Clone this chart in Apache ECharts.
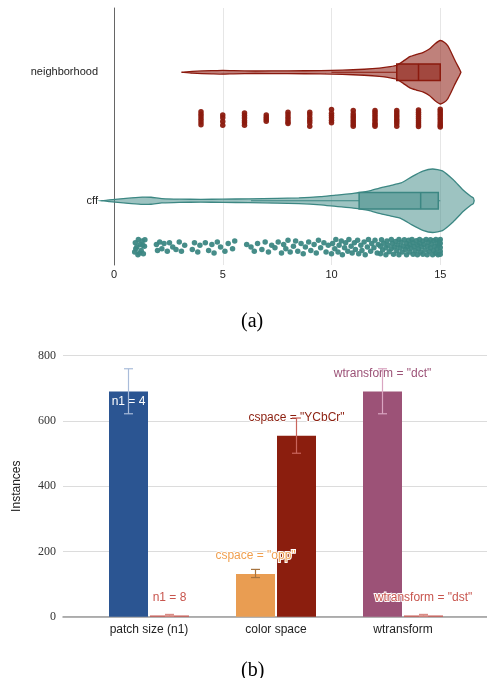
<!DOCTYPE html>
<html><head><meta charset="utf-8">
<script src="https://cdn.jsdelivr.net/npm/echarts@6/dist/echarts.min.js"></script>
<style>html,body{margin:0;padding:0;background:#fff}#c{width:487px;height:678px}</style>
</head><body><div id="c"></div>
<script>
// ---------- Panel (a) data ----------
const rowNames = ['cff', 'neighborhood'];
const xTicksA = [0, 5, 10, 15];
// violin profiles: [x, relative density (max 1)]
const nbViolin = [[3.1,0],[3.6,0.03],[4.5,0.05],[5,0.06],[5.5,0.05],[6.5,0.04],[8,0.045],[9.5,0.05],[10.5,0.065],[11.5,0.095],[12.2,0.13],[12.7,0.175],[13.0,0.22],[13.3,0.35],[13.6,0.49],[13.9,0.56],[14.2,0.62],[14.5,0.73],[14.75,0.89],[15.0,1.0],[15.2,0.94],[15.35,0.83],[15.5,0.63],[15.65,0.41],[15.8,0.21],[15.9,0.08],[15.95,0]];
const cffViolin = [[-0.55,0],[-0.2,0.03],[0.3,0.06],[0.8,0.09],[1.3,0.115],[1.7,0.11],[2.2,0.07],[3,0.05],[4,0.045],[5,0.05],[6.2,0.06],[7.5,0.075],[8.5,0.09],[9.5,0.13],[10.2,0.18],[11,0.23],[11.7,0.3],[12.2,0.4],[12.7,0.48],[13.2,0.56],[13.7,0.76],[14.2,0.93],[14.65,1.0],[15.1,0.94],[15.6,0.66],[16.05,0.34],[16.4,0.14],[16.52,0.09],[16.56,0]];
// box: [whisker low, Q1, median, Q3, whisker high]
const nbBox = [10, 13, 14, 15, 15];
const cffBox = [6.3, 11.27, 14.1, 14.91, 15];
// neighborhood jittered points: [x, vertical jitter values]
const nbJitter = [
  [4, [0.8,0.5,0.2,-0.1,-0.4,-0.75]],
  [5, [0.42,0.1,-0.35,-0.78]],
  [6, [0.66,0.35,0.05,-0.25,-0.5,-0.78]],
  [7, [0.42,0.15,-0.1,-0.31]],
  [8, [0.74,0.45,0.15,-0.15,-0.4,-0.58]],
  [9, [0.74,0.45,0.1,-0.2,-0.5,-0.9]],
  [10, [1.06,0.62,0.35,0.1,-0.2,-0.5]],
  [11, [0.94,0.55,0.3,0.05,-0.2,-0.45,-0.7,-0.9]],
  [12, [0.94,0.7,0.45,0.2,-0.05,-0.3,-0.55,-0.75,-0.9]],
  [13, [0.94,0.68,0.42,0.18,-0.08,-0.32,-0.58,-0.9]],
  [14, [1.0,0.75,0.5,0.25,0.0,-0.25,-0.5,-0.75,-0.95]],
  [15, [1.1,0.85,0.6,0.35,0.1,-0.15,-0.4,-0.65,-0.85,-1.0]]
];
// cff jittered points: [x, vertical jitter]
const cffJitter = [
  [0.95,-0.6],[0.98,0.5],[1.0,-0.2],[1.05,0.0],[1.1,-0.9],[1.12,0.9],[1.18,-0.7],[1.2,0.3],[1.25,-0.4],[1.3,0.7],[1.32,0.2],[1.35,-0.8],[1.4,0.1],[1.42,0.85],
  [1.95,0.3],[2.0,-0.4],[2.1,0.6],[2.2,-0.2],[2.3,0.4],[2.45,-0.5],[2.55,0.5],[2.7,0.0],[2.85,-0.3],
  [3.0,0.6],[3.1,-0.5],[3.25,0.2],[3.6,-0.3],[3.7,0.5],[3.85,-0.6],[3.95,0.2],
  [4.2,0.5],[4.35,-0.4],[4.5,0.3],[4.6,-0.7],[4.75,0.6],[4.9,0.0],
  [5.1,-0.5],[5.25,0.4],[5.45,-0.2],[5.55,0.7],[6.1,0.3],
  [6.3,0.0],[6.45,-0.5],[6.6,0.4],[6.8,-0.3],[6.95,0.6],[7.1,-0.6],[7.25,0.2],[7.4,-0.1],[7.55,0.6],
  [7.7,-0.7],[7.8,0.3],[7.9,-0.2],[8.0,0.8],[8.1,-0.6],[8.25,0.1],[8.35,0.7],[8.45,-0.5],[8.6,0.4],[8.7,-0.8],[8.8,0.0],[8.95,0.6],[9.05,-0.4],[9.2,0.3],[9.3,-0.7],[9.4,0.8],[9.5,-0.1],[9.65,0.5],[9.75,-0.6],[9.85,0.2],
  [10.0,-0.8],[10.05,0.4],[10.15,-0.2],[10.2,0.9],[10.3,-0.6],[10.35,0.2],[10.45,0.7],[10.5,-0.9],[10.6,-0.1],[10.65,0.5],[10.75,-0.5],[10.8,0.9],[10.9,0.1],[10.95,-0.7],[11.05,0.5],[11.1,-0.3],[11.2,0.8],[11.25,-0.8],[11.35,0.2],[11.4,-0.4],[11.5,0.6],[11.55,-0.9],[11.65,0.0],[11.7,0.9],[11.8,-0.5],[11.85,0.4],[11.95,-0.1],[12.0,0.8],[12.1,-0.7],[12.15,0.3],
  [12.25,-0.8],[12.25,0.1],[12.3,0.85],[12.35,-0.35],[12.4,0.45],[12.5,-0.9],[12.5,-0.1],[12.55,0.7],[12.6,0.2],[12.65,-0.55],[12.75,0.9],[12.75,-0.2],[12.8,0.4],[12.85,-0.85],[12.9,0.0],[12.95,0.65],[13.0,-0.45],[13.05,0.25],[13.1,0.9],[13.1,-0.9],[13.15,-0.1],[13.2,0.55],[13.25,-0.6],[13.3,0.1],[13.35,0.85],[13.4,-0.3],[13.45,-0.9],[13.45,0.4],[13.5,0.0],[13.55,0.8],[13.6,-0.6],[13.6,0.3],[13.65,-0.15],[13.7,0.9],[13.75,-0.85],[13.75,0.5],[13.8,0.05],[13.85,-0.45],[13.9,0.75],[13.95,0.25],[13.95,-0.9],[14.0,-0.2],[14.05,0.9],[14.05,0.45],[14.1,-0.6],[14.15,0.0],[14.2,0.7],[14.2,-0.85],[14.25,0.3],[14.3,-0.35],[14.35,0.9],[14.4,-0.9],[14.4,0.1],[14.45,0.55],[14.5,-0.5],[14.55,0.85],[14.55,-0.1],[14.6,0.35],[14.65,-0.9],[14.7,0.75],[14.7,-0.4],[14.75,0.1],[14.8,0.9],[14.8,-0.75],[14.85,0.45],[14.85,-0.2],[14.9,-0.9],[14.95,0.7],[14.95,0.2],[15.0,-0.5],[15.0,0.9],[15.0,-0.05],[15.0,0.45],[15.0,-0.85]
];

// ---------- Panel (b) data ----------
const barCategories = ['patch size (n1)', 'color space', 'wtransform'];
const barValuesA = [690, 131, 690];
const barValuesB = [4, 555, 4];
const barLabelsA = ['n1 = 4', 'cspace = "opp"', 'wtransform = "dct"'];
const barLabelsB = ['n1 = 8', 'cspace = "YCbCr"', 'wtransform = "dst"'];
const errA = [[622, 760], [120, 145], [622, 760]];
const errB = [[2, 7], [501, 609], [2, 7]];
const yTicksB = [0, 200, 400, 600, 800];

// ---------- styles / layout ----------
const rowCenter = [0.5, 1.5];
const violinHalf = 0.247, boxHalf = 0.065, jitterOffset = -0.36, jitterSpread = 0.066;
const nbColor = '#8B1A0E', cffColor = '#3C8783';
const barColorsA = ['#2B5592', '#E99D52', '#9C5277'];
const barColorsB = ['#C8554E', '#8B1E0E', '#C8554E'];
const labelColorsA = ['#ffffff', '#F0A050', '#9C5277'];
const labelColorsB = ['#C8554E', '#8B1E0E', '#C8554E'];
const errColorsA = ['#A9BCDA', '#A7743F', '#D9A5C1'];
const errColorsB = ['#D98C86', '#C9655C', '#D98C86'];
const barW = 39, barGapPx = 2;
const SANS = 'Liberation Sans, Arial, sans-serif', SERIF = 'Liberation Serif, Times New Roman, serif';

function violin(profile, row, fill, stroke) {
  return {
    type: 'custom', xAxisIndex: 0, yAxisIndex: 1, data: [0], silent: true, z: 2, clip: false,
    renderItem: function (params, api) {
      const c = rowCenter[row];
      const top = profile.map(p => api.coord([p[0], c + p[1] * violinHalf]));
      const bot = profile.slice().reverse().map(p => api.coord([p[0], c - p[1] * violinHalf]));
      return { type: 'polygon', shape: { points: top.concat(bot), smooth: 0.15 },
        style: { fill: fill, stroke: stroke, lineWidth: 1.3 } };
    }
  };
}
function box(b, row, fill, stroke) {
  return {
    type: 'custom', xAxisIndex: 0, yAxisIndex: 1, data: [0], silent: true, z: 3, clip: false,
    renderItem: function (params, api) {
      const c = rowCenter[row];
      const a = api.coord([b[1], c + boxHalf]), d = api.coord([b[3], c - boxHalf]);
      const m1 = api.coord([b[2], c + boxHalf]), m2 = api.coord([b[2], c - boxHalf]);
      const wl = api.coord([b[0], c]), q1 = api.coord([b[1], c]);
      const q3 = api.coord([b[3], c]), wh = api.coord([b[4], c]);
      const st = { stroke: stroke, lineWidth: 1.5, fill: null };
      return { type: 'group', children: [
        { type: 'line', shape: { x1: wl[0], y1: wl[1], x2: q1[0], y2: q1[1] }, style: { stroke: stroke, lineWidth: 1 } },
        { type: 'line', shape: { x1: q3[0], y1: q3[1], x2: wh[0], y2: wh[1] }, style: { stroke: stroke, lineWidth: 1 } },
        { type: 'rect', shape: { x: a[0], y: a[1], width: d[0] - a[0], height: d[1] - a[1] }, style: { fill: fill, stroke: stroke, lineWidth: 1.5 } },
        { type: 'line', shape: { x1: m1[0], y1: m1[1], x2: m2[0], y2: m2[1] }, style: st }
      ] };
    }
  };
}
const nbPoints = [];
nbJitter.forEach(col => col[1].forEach(j => nbPoints.push([col[0], rowCenter[1] + jitterOffset + j * jitterSpread])));
const cffPoints = cffJitter.map(p => [p[0], rowCenter[0] + jitterOffset + p[1] * jitterSpread]);

function errSeries(err, colors, side) {
  return {
    type: 'custom', xAxisIndex: 2, yAxisIndex: 3, z: 4, silent: true,
    data: err.map((e, i) => [i, e[0], e[1]]),
    renderItem: function (params, api) {
      const i = api.value(0);
      const lo = api.coord([i, api.value(1)]), hi = api.coord([i, api.value(2)]);
      const x = lo[0] + side * (barW + barGapPx) / 2;
      const col = colors[params.dataIndex];
      const st = { stroke: col, lineWidth: 1.2 };
      return { type: 'group', children: [
        { type: 'line', shape: { x1: x, y1: lo[1], x2: x, y2: hi[1] }, style: st },
        { type: 'line', shape: { x1: x - 4.5, y1: lo[1], x2: x + 4.5, y2: lo[1] }, style: st },
        { type: 'line', shape: { x1: x - 4.5, y1: hi[1], x2: x + 4.5, y2: hi[1] }, style: st }
      ] };
    }
  };
}
function barData(vals, colors, labels, lcolors, first) {
  return vals.map((v, i) => ({
    value: v,
    itemStyle: { color: colors[i] },
    label: {
      show: true, formatter: labels[i], color: lcolors[i], fontSize: 12, fontFamily: SANS,
      position: (first && i === 0) ? 'insideTop' : 'top',
      distance: (first && i === 0) ? 4 : 12,
      textBorderColor: (first && i === 0) ? 'transparent' : '#fff',
      textBorderWidth: (first && i === 0) ? 0 : 2
    }
  }));
}

const chart = echarts.init(document.getElementById('c'), null, { renderer: 'canvas' });
chart.setOption({
  animation: false,
  backgroundColor: '#fff',
  title: [
    { text: '(a)', left: 241, top: 312, padding: 0, textStyle: { fontFamily: SERIF, fontWeight: 'normal', fontSize: 20, color: '#000' } },
    { text: '(b)', left: 241, top: 661, padding: 0, textStyle: { fontFamily: SERIF, fontWeight: 'normal', fontSize: 20, color: '#000' } }
  ],
  grid: [
    { left: 114, width: 435, top: 8, height: 257, outerBoundsMode: 'none', containLabel: false },
    { left: 63, right: 0, top: 355.7, bottom: 61.3, outerBoundsMode: 'none', containLabel: false },
    { left: 85.5, right: 20.5, top: 355.7, bottom: 61.3, outerBoundsMode: 'none', containLabel: false }
  ],
  xAxis: [
    { gridIndex: 0, type: 'value', min: 0, max: 20, interval: 5,
      axisLine: { show: false }, axisTick: { show: false },
      axisLabel: { margin: 4, fontSize: 11, color: '#222', fontFamily: SANS,
        formatter: v => (xTicksA.indexOf(v) >= 0 ? String(v) : '') },
      splitLine: { show: true, showMinLine: false, showMaxLine: false, lineStyle: { color: '#e6e6e6', width: 1 } } },
    { gridIndex: 1, type: 'value', min: 0, max: 1, axisLabel: { show: false }, axisTick: { show: false },
      splitLine: { show: false }, axisLine: { show: true, lineStyle: { color: '#9a9a9a', width: 1.5 } } },
    { gridIndex: 2, type: 'category', data: barCategories, axisLine: { show: false }, axisTick: { show: false },
      axisLabel: { margin: 7, fontSize: 12, color: '#222', fontFamily: SANS } }
  ],
  yAxis: [
    { gridIndex: 0, type: 'category', data: rowNames, axisTick: { show: false },
      axisLine: { show: true, onZero: false, lineStyle: { color: '#666', width: 1 } },
      axisLabel: { margin: 16, fontSize: 11, color: '#222', fontFamily: SANS }, splitLine: { show: false } },
    { gridIndex: 0, type: 'value', min: 0, max: 2, show: false, splitLine: { show: false } },
    { gridIndex: 1, type: 'value', min: 0, max: 800, interval: 200,
      axisLine: { show: false }, axisTick: { show: false },
      axisLabel: { margin: 7, fontSize: 12, color: '#333', fontFamily: SERIF,
        formatter: v => (yTicksB.indexOf(v) >= 0 ? String(v) : '') },
      splitLine: { lineStyle: { color: '#dcdcdc', width: 1 } },
      name: 'Instances', nameLocation: 'middle', nameGap: 40,
      nameTextStyle: { fontSize: 12, color: '#222', fontFamily: SANS } },
    { gridIndex: 2, type: 'value', min: 0, max: 800, show: false, splitLine: { show: false } }
  ],
  series: [
    violin(nbViolin, 1, 'rgba(139,26,14,0.55)', nbColor),
    violin(cffViolin, 0, 'rgba(60,135,131,0.5)', cffColor),
    box(nbBox, 1, 'rgba(139,26,14,0.55)', nbColor),
    box(cffBox, 0, 'rgba(60,135,131,0.5)', cffColor),
    { type: 'scatter', xAxisIndex: 0, yAxisIndex: 1, data: nbPoints, symbolSize: 5.5, silent: true,
      itemStyle: { color: nbColor, opacity: 0.95 }, z: 2 },
    { type: 'scatter', xAxisIndex: 0, yAxisIndex: 1, data: cffPoints, symbolSize: 5.5, silent: true,
      itemStyle: { color: cffColor, opacity: 0.95 }, z: 2 },
    { type: 'bar', xAxisIndex: 2, yAxisIndex: 3, barWidth: barW, barGap: (barGapPx / barW * 100) + '%',
      data: barData(barValuesA, barColorsA, barLabelsA, labelColorsA, true), z: 2 },
    { type: 'bar', xAxisIndex: 2, yAxisIndex: 3, barWidth: barW,
      data: barData(barValuesB, barColorsB, barLabelsB, labelColorsB, false), z: 2 },
    errSeries(errA, errColorsA, -1),
    errSeries(errB, errColorsB, 1)
  ]
});
</script></body></html>
